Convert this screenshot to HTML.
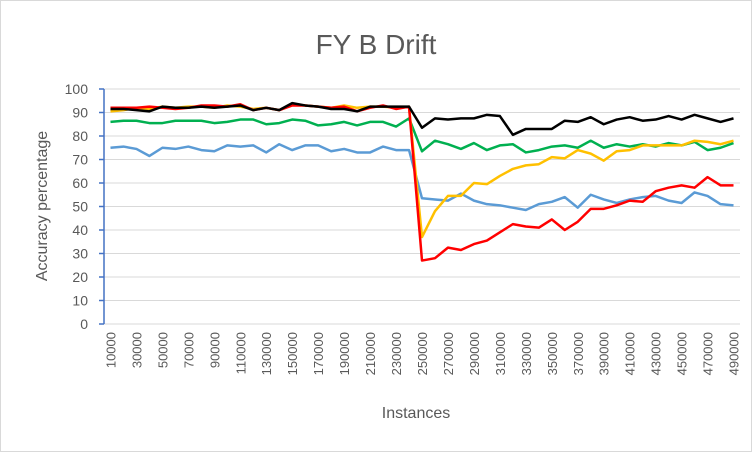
<!DOCTYPE html>
<html><head><meta charset="utf-8"><style>
body{margin:0;background:#fff}
svg{display:block;font-family:"Liberation Sans",sans-serif}
</style></head><body>
<svg width="752" height="452">
<rect x="0.5" y="0.5" width="751" height="451" fill="#fff" stroke="#d9d9d9"/>
<text x="376" y="54" text-anchor="middle" font-size="28" fill="#595959">FY B Drift</text>
<g id="grid"></g><g id="axes"></g><g id="series"></g>
<text x="0" y="0" transform="translate(47,206) rotate(-90)" text-anchor="middle" font-size="16" fill="#595959">Accuracy percentage</text>
<text x="416" y="418" text-anchor="middle" font-size="16" fill="#595959">Instances</text>
</svg>
<script>
const categories=[];for(let i=1;i<=49;i++)categories.push(i*10000);
const yTicks=[0,10,20,30,40,50,60,70,80,90,100];
const black=[91.5,91.5,91,90.5,92.5,92,92,92.5,92,92.5,93,91,92,91,94,93,92.5,91.5,91.5,90.5,92.5,92.5,92.5,92.5,83.5,87.5,87,87.5,87.5,89,88.5,80.5,83,83,83,86.5,86,88,85,87,88,86.5,87,88.5,87,89,87.5,86,87.5];
const red=[92,92,92,92.5,92,91.5,92,93,93,92.5,93.5,91,92,91,93,93,92.5,92,92.5,90.5,92,93,91.5,92.5,27,28,32.5,31.5,34,35.5,39,42.5,41.5,41,44.5,40,43.5,49,49,50.5,52.5,52,56.5,58,59,58,62.5,59,59];
const yellow=[90.5,91,92,91.5,92.5,92,92.5,92.5,92,93,92.5,91.5,92,91,93.5,93,92.5,92,93,92,92.5,92.5,92,92.5,37,48,54.5,54.5,60,59.5,63,66,67.5,68,71,70.5,74,72.5,69.5,73.5,74,76,76,76,76,78,77.5,76.5,78];
const green=[86,86.5,86.5,85.5,85.5,86.5,86.5,86.5,85.5,86,87,87,85,85.5,87,86.5,84.5,85,86,84.5,86,86,84,87.5,73.5,78,76.5,74.5,77,74,76,76.5,73,74,75.5,76,75,78,75,76.5,75.5,76.5,75.5,77,76,77.5,74,75,77];
const blue=[75,75.5,74.5,71.5,75,74.5,75.5,74,73.5,76,75.5,76,73,76.5,74,76,76,73.5,74.5,73,73,75.5,74,74,53.5,53,52.5,55.5,52.5,51,50.5,49.5,48.5,51,52,54,49.5,55,53,51.5,53,54,54.5,52.5,51.5,56,54.5,51,50.5];
const X0=104,X1=740,Y0=324,Y1=89;
const step=(X1-X0)/categories.length;
const xs=i=>X0+step*(i+0.5);
const ys=v=>Y0-(v/100)*(Y0-Y1);
const NS="http://www.w3.org/2000/svg";
const mk=(t,a,p)=>{const e=document.createElementNS(NS,t);for(const k in a)e.setAttribute(k,a[k]);p.appendChild(e);return e;};
const grid=document.getElementById('grid'),axes=document.getElementById('axes'),ser=document.getElementById('series');
yTicks.forEach(t=>{
 const l=mk('line',{x1:X0,x2:X1,y1:ys(t),y2:ys(t),stroke:'#d9d9d9','stroke-width':1},grid);
 
 
 const tk=mk('line',{x1:X0-5,x2:X0,y1:ys(t),y2:ys(t),stroke:'#4472c4','stroke-width':1.5},axes);
 
 
 const tx=mk('text',{x:X0-16,y:ys(t)+5,'text-anchor':'end','font-size':14,fill:'#595959'},axes);
 tx.textContent=t;
 
 
});
const ax=mk('line',{x1:X0,x2:X0,y1:Y0,y2:Y1,stroke:'#4472c4','stroke-width':1.5},axes);


categories.forEach((c,i)=>{
 if(i%2)return;
 const tx=mk('text',{x:0,y:0,transform:`translate(${xs(i)+5},${Y0+8}) rotate(-90)`,'text-anchor':'end','font-size':13,fill:'#595959'},axes);
 tx.textContent=c;
 
 
});
const s=[[blue,'#5b9bd5','blue'],[green,'#00b050','green'],[yellow,'#ffc000','yellow'],[red,'#ff0000','red'],[black,'#000000','black']];
s.forEach(([d,col,n])=>{
 const p=mk('polyline',{points:d.map((v,i)=>xs(i)+','+ys(v)).join(' '),fill:'none',stroke:col,'stroke-width':2.5,'stroke-linejoin':'round'},ser);
 
 
});
</script>
</body></html>
